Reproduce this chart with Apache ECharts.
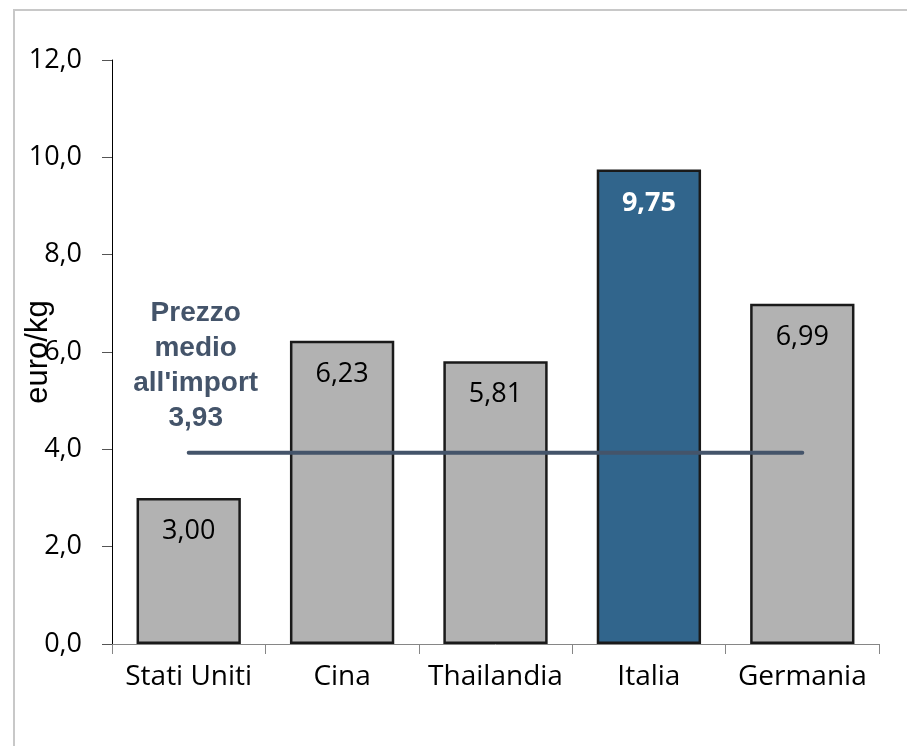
<!DOCTYPE html>
<html>
<head>
<meta charset="utf-8">
<script src="https://cdn.jsdelivr.net/npm/echarts@6/dist/echarts.min.js"></script>
<style>html,body{margin:0;padding:0;background:#fff;}#c{width:907px;height:746px;}</style>
</head>
<body>
<div id="c"></div>
<script>
const categories = ['Stati Uniti', 'Cina', 'Thailandia', 'Italia', 'Germania'];
const values = [3.00, 6.23, 5.81, 9.75, 6.99];
const highlightIndex = 3;
const averageValue = 3.93;
const averageLabel = ['Prezzo', 'medio', "all'import", '3,93'];
const yTicks = [0, 2, 4, 6, 8, 10, 12];

const fmt = (v, d) => v.toFixed(d).replace('.', ',');

const chart = echarts.init(document.getElementById('c'));
chart.setOption({
  animation: false,
  backgroundColor: '#fff',
  graphic: [{
    type: 'polyline',
    shape: { points: [[14, 760], [14, 10], [920, 10]] },
    style: { stroke: '#c8c8c8', lineWidth: 2, fill: null },
    silent: true
  }],
  grid: { left: 112, right: 28, top: 60, bottom: 102, containLabel: false, outerBoundsMode: 'none' },
  xAxis: {
    type: 'category',
    data: categories,
    axisLine: { lineStyle: { color: '#868686', width: 1 } },
    axisTick: { show: true, length: 10, lineStyle: { color: '#868686' } },
    axisLabel: { interval: 0, fontFamily: 'Open Sans', fontSize: 28, color: '#000', margin: 19 }
  },
  yAxis: {
    type: 'value',
    min: yTicks[0], max: yTicks[yTicks.length - 1], interval: 2,
    name: 'euro/kg',
    nameLocation: 'middle',
    nameRotate: 90,
    nameGap: 58,
    nameMoveOverlap: false,
    nameTextStyle: { fontFamily: 'Liberation Sans', fontSize: 31, color: '#000' },
    splitLine: { show: false },
    axisLine: { show: true, lineStyle: { color: '#000', width: 1 } },
    axisTick: { show: true, length: 10, lineStyle: { color: '#555' } },
    axisLabel: { fontFamily: 'Open Sans', fontSize: 27, color: '#000', margin: 30,
      formatter: v => fmt(v, 1) }
  },
  series: [{
    type: 'bar',
    data: values.map((v, i) => ({
      value: v,
      itemStyle: { color: i === highlightIndex ? '#31658C' : '#B2B2B2' },
      label: i === highlightIndex ? { color: '#fff', fontWeight: 'bold' } : {}
    })),
    barWidth: '68%',
    itemStyle: { borderColor: '#1a1a1a', borderWidth: 2.5 },
    label: {
      show: true, position: 'insideTop', distance: 20,
      fontFamily: 'Open Sans', fontSize: 27, color: '#000',
      formatter: p => fmt(p.value, 2)
    },
    z: 2
  }, {
    type: 'line',
    data: categories.map(() => averageValue),
    symbol: 'none',
    lineStyle: { color: '#44546A', width: 4, cap: 'round' },
    z: 3,
    label: { show: false },
    markPoint: {
      symbol: 'circle', symbolSize: 0,
      data: [{ coord: [0, averageValue] }],
      label: {
        show: true, position: 'top', distance: 17, offset: [7, 0],
        formatter: averageLabel.join('\n'),
        fontFamily: 'Liberation Sans', fontWeight: 'bold', fontSize: 28,
        lineHeight: 35, color: '#44546A', align: 'center'
      }
    }
  }]
});
</script>
</body>
</html>
